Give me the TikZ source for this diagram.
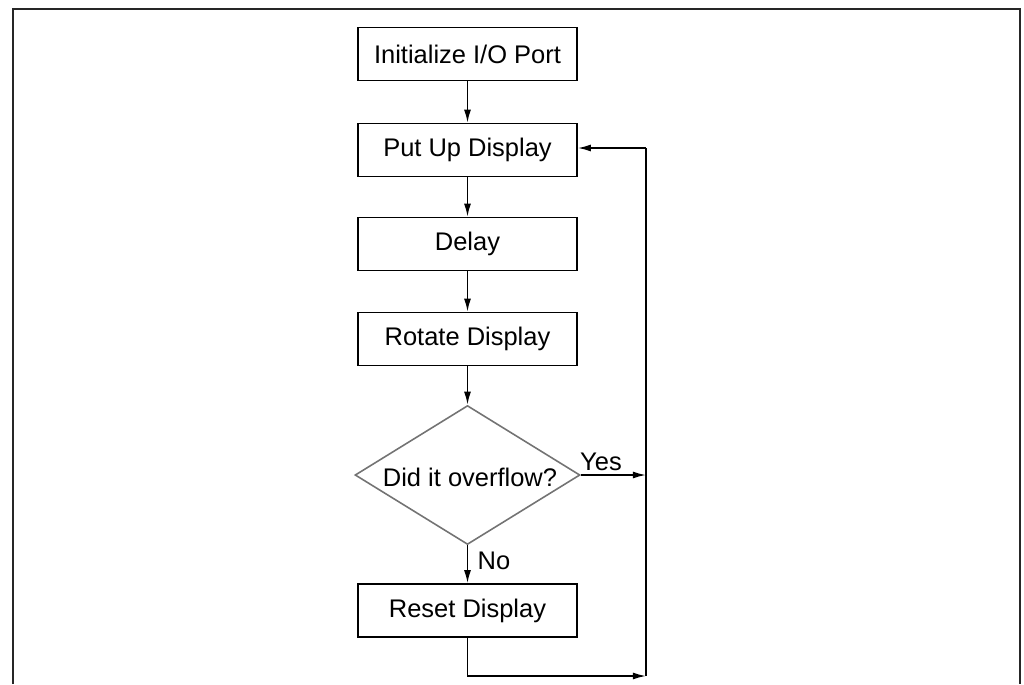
\documentclass[tikz,border=0pt]{standalone}
\usepackage{fontspec}
\setmainfont{Liberation Sans}
\usetikzlibrary{shapes.geometric,arrows.meta}
\begin{document}
\begin{tikzpicture}[x=0.02cm,y=-0.02cm,
  box/.style={draw=black,line width=0.9pt,minimum width=4.38cm,minimum height=1.06cm,inner sep=0pt,font=\fontsize{14.5}{16}\selectfont},
  dia/.style={diamond,draw=black!55,line width=0.9pt,minimum width=4.5cm,minimum height=2.78cm,inner sep=0pt},
  lbl/.style={font=\fontsize{14.5}{16}\selectfont,inner sep=0pt},
  conn/.style={line width=0.9pt,-{Latex[length=7.5pt,width=4pt]}},
  wire/.style={line width=0.9pt},
  frame/.style={draw=black!85,line width=1.3pt}]
\useasboundingbox (0,0) rectangle (1024,684);
\draw[frame] (13,684) -- (13,9) -- (1020,9) -- (1020,684);
\node[box] (b1) at (467.5,54) {Initialize I/O Port};
\node[box] (b2) at (467.5,150) {Put Up Display};
\node[box] (b3) at (467.5,244) {Delay};
\node[box] (b4) at (467.5,339) {Rotate Display};
\node[dia] (d) at (467.5,475) {};
\node[lbl] (dt) at (470,477) {Did it overflow?};
\node[box] (b5) at (467.5,610.5) {Reset Display};
\node[lbl] (yes) at (601,462) {Yes};
\node[lbl] (no) at (494,561) {No};
\coordinate (loopT) at (646,148);
\coordinate (loopY) at (646,475);
\coordinate (loopB) at (646,676);
\draw[conn] (b1) -- (b2);
\draw[conn] (b2) -- (b3);
\draw[conn] (b3) -- (b4);
\draw[conn] (b4) -- (d);
\draw[conn] (d) -- (b5);
\draw[conn] (d.east) -- (loopY);
\draw[conn] (b5.south) |- (loopB);
\draw[wire] (loopB) -- (loopT);
\draw[conn] (loopT) -- (loopT -| b2.east);
\end{tikzpicture}
\end{document}
